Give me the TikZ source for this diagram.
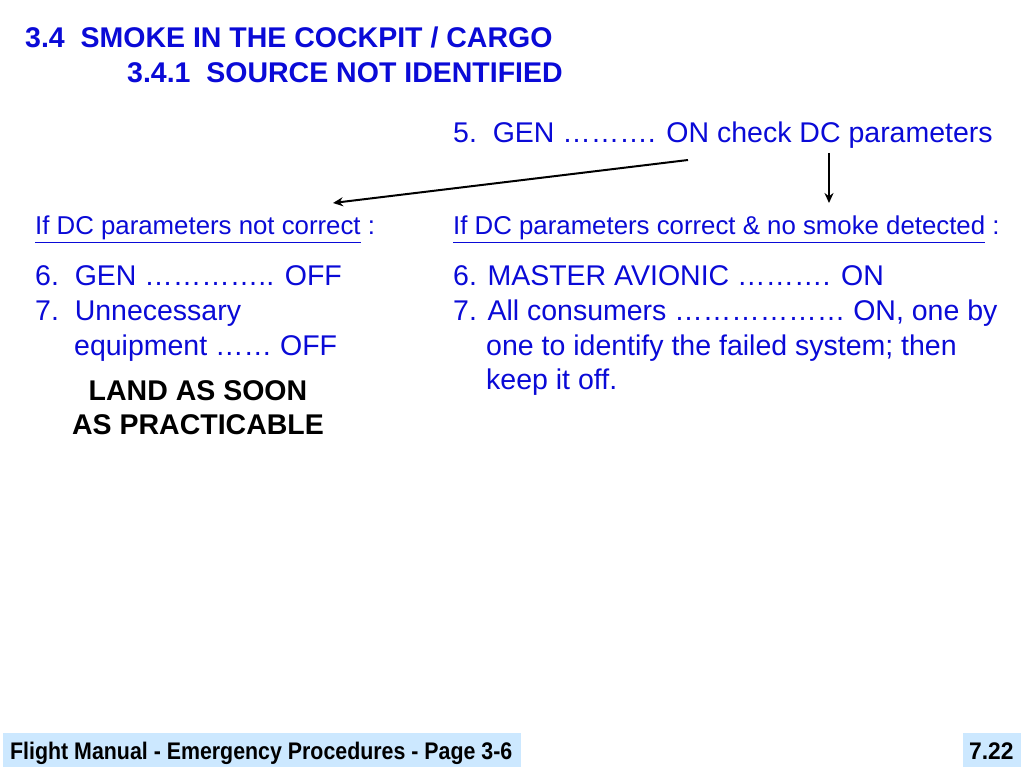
\documentclass[tikz,border=0pt]{standalone}
\usepackage{fontspec}
\setmainfont{Liberation Sans}
\usetikzlibrary{arrows.meta}
\definecolor{txtblue}{RGB}{10,10,215}
\definecolor{footblue}{RGB}{204,232,255}
\tikzset{
  title/.style={anchor=base west, inner sep=0pt, text=txtblue, font=\bfseries\fontsize{28.5}{32}\selectfont},
  item/.style={anchor=base west, inner sep=0pt, text=txtblue, font=\fontsize{28.5}{35}\selectfont},
  cond/.style={anchor=base west, inner sep=0pt, text=txtblue, font=\fontsize{25.8}{30}\selectfont},
  land/.style={anchor=base, inner sep=0pt, text=black, font=\bfseries\fontsize{28.5}{34}\selectfont},
  foot/.style={anchor=base west, inner sep=0pt, text=black, font=\bfseries\fontsize{24}{28}\selectfont},
  arr/.style={-{Stealth[length=10pt,width=9pt]}, line width=2pt, black}
}
\begin{document}
\begin{tikzpicture}[x=1pt,y=-1pt]
\useasboundingbox (0,0) rectangle (1024,767);
\fill[white] (0,0) rectangle (1024,767);
% footer boxes
\fill[footblue] (3,733) rectangle (521,767);
\fill[footblue] (963,733) rectangle (1021,767);
\node[foot, xscale=0.89] (ft) at (10,759) {Flight Manual - Emergency Procedures - Page 3-6};
\node[foot, xscale=0.95] (pg) at (969,759) {7.22};
% titles
\node[title] (t1) at (25,48) {3.4\ \ SMOKE IN THE COCKPIT / CARGO};
\node[title] (t2) at (127,83) {3.4.1\ \ SOURCE NOT IDENTIFIED};
% step 5
\node[item] (s5) at (453,143) {5.\ \ GEN \dots\dots\dots. ON check DC parameters};
\coordinate (a1s) at (688,160);
\coordinate (a1e) at (333,203);
\coordinate (a2s) at (829,153);
\coordinate (a2e) at (829,203);
\draw[arr] (a1s) -- (a1e);
\draw[arr] (a2s) -- (a2e);
% left column
\node[cond] (cl) at (35,235) {\underline{If DC parameters not correct} :};
\node[item] (l6) at (35,285) {6.\ \ GEN \dots\dots\dots\dots.. OFF};
\node[item] (l7) at (35,320) {7.\ \ Unnecessary};
\node[item] (l7b) at (74,355) {equipment \dots\dots\ OFF};
\node[land] (ld1) at (198,400) {LAND AS SOON};
\node[land] (ld2) at (198,434) {AS PRACTICABLE};
% right column
\node[cond] (cr) at (453,235) {\underline{If DC parameters correct \& no smoke detected} :};
\node[item] (r6) at (453,285) {6. MASTER AVIONIC \dots\dots\dots. ON};
\node[item] (r7) at (453,320) {7. All consumers \dots\dots\dots\dots\dots\dots\ ON, one by};
\node[item] (r7b) at (486,355) {one to identify the failed system; then};
\node[item] (r7c) at (486,389) {keep it off.};
\end{tikzpicture}
\end{document}
